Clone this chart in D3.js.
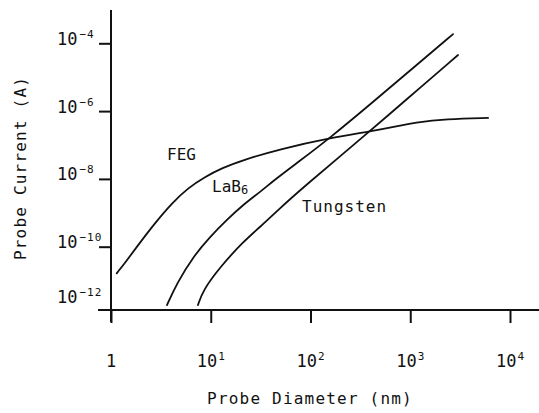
<!DOCTYPE html>
<html>
<head>
<meta charset="utf-8">
<script src="https://cdn.jsdelivr.net/npm/d3@7"></script>
<style>
  html, body { margin: 0; padding: 0; background: #fff; }
  svg { display: block; }
  text { font-family: "DejaVu Sans Mono", monospace; fill: #111; }
</style>
</head>
<body>
<svg id="chart" width="539" height="413"></svg>
<script>
// Probe current vs. probe diameter for three electron sources
const fegDiameter = [1.14, 1.38, 1.87, 2.76, 4.09, 5.92, 8.75, 13.0, 21.0, 49.4, 157, 414, 789, 1070, 2330, 6030];
const fegCurrent  = [1.64e-11, 3.3e-11, 1.12e-10, 5.0e-10, 1.95e-9, 5.4e-9, 1.15e-8, 2.1e-8, 3.6e-8, 7.6e-8, 1.62e-7, 2.57e-7, 3.7e-7, 4.5e-7, 5.9e-7, 6.3e-7];

const lab6Diameter = [3.64, 4.59, 6.64, 9.82, 14.5, 21.0, 31.2, 46.2, 73.2, 157, 424, 1067, 2685];
const lab6Current  = [1.9e-12, 8.5e-12, 5.0e-11, 1.95e-10, 6.2e-10, 1.7e-9, 4.1e-9, 1.07e-8, 2.95e-8, 1.62e-7, 1.86e-6, 1.87e-5, 1.87e-4];

const tungstenDiameter = [7.45, 8.36, 12.4, 21.0, 31.2, 47.2, 78.5, 414, 789, 3013];
const tungstenCurrent  = [1.9e-12, 5.2e-12, 2.5e-11, 1.38e-10, 3.8e-10, 1.2e-9, 4.7e-9, 2.9e-7, 1.51e-6, 4.5e-5];

const xTickValues = [1, 10, 100, 1000, 10000];
const xTickBase   = ["1", "10", "10", "10", "10"];
const xTickExp    = ["", "1", "2", "3", "4"];

const yTickValues = [1e-4, 1e-6, 1e-8, 1e-10, 1e-12];
const yTickBase   = ["10", "10", "10", "10", "10"];
const yTickExp    = ["-4", "-6", "-8", "-10", "-12"];

const series = [
  { name: "FEG", d: fegDiameter, i: fegCurrent },
  { name: "LaB6", d: lab6Diameter, i: lab6Current },
  { name: "Tungsten", d: tungstenDiameter, i: tungstenCurrent }
];

const svg = d3.select("#chart");

const x = d3.scaleLog().domain([1, 1e4]).range([111, 510]);
const y = d3.scaleLog().domain([1e-4, 1e-10]).range([43.3, 246.7]);

const axisY = 310;   // baseline of the diameter axis
const axisX = x(1);  // position of the current axis

// Axis lines
svg.append("line")
  .attr("x1", axisX).attr("x2", axisX)
  .attr("y1", 10).attr("y2", 322)
  .attr("stroke", "#111").attr("stroke-width", 2);
svg.append("line")
  .attr("x1", 98).attr("x2", 539)
  .attr("y1", axisY).attr("y2", axisY)
  .attr("stroke", "#111").attr("stroke-width", 2);

// Tick marks
const yAxis = d3.axisLeft(y).tickValues(yTickValues.slice(0, 4)).tickSize(12).tickFormat("");
svg.append("g").attr("transform", `translate(${axisX},0)`).call(yAxis)
  .call(g => g.select(".domain").remove())
  .call(g => g.selectAll("line").attr("stroke", "#111").attr("stroke-width", 2));

const xAxis = d3.axisBottom(x).tickValues(xTickValues).tickSize(13).tickFormat("");
svg.append("g").attr("transform", `translate(0,${axisY})`).call(xAxis)
  .call(g => g.select(".domain").remove())
  .call(g => g.selectAll("line").attr("stroke", "#111").attr("stroke-width", 2));

// Tick labels on the diameter axis
xTickValues.forEach((v, k) => {
  const t = svg.append("text")
    .attr("x", x(v))
    .attr("y", 367)
    .attr("text-anchor", "middle")
    .attr("font-size", 17);
  t.append("tspan").text(xTickBase[k]);
  if (xTickExp[k]) {
    t.append("tspan").attr("font-size", 11).attr("dx", 1).attr("dy", -7).text(xTickExp[k]);
  }
});

// Tick labels on the current axis
yTickValues.forEach((v, k) => {
  const base = Math.min(y(v) + 1.5, axisY - 7);
  const t = svg.append("text")
    .attr("x", 57)
    .attr("y", base)
    .attr("font-size", 17);
  t.append("tspan").text(yTickBase[k]);
  t.append("tspan").attr("font-size", 11).attr("dx", 2).attr("dy", -7)
    .attr("letter-spacing", 1).text(yTickExp[k].replace("-", "\u2212"));
});

// Curves
const line = d3.line()
  .x(p => x(p[0]))
  .y(p => y(p[1]))
  .curve(d3.curveBasis);

series.forEach(s => {
  svg.append("path")
    .datum(s.d.map((dv, k) => [dv, s.i[k]]))
    .attr("d", line)
    .attr("fill", "none")
    .attr("stroke", "#111")
    .attr("stroke-width", 1.8)
    .attr("stroke-linecap", "round");
});

// Curve labels
svg.append("text").attr("x", 167).attr("y", 160).attr("font-size", 16).text("FEG");
const lab = svg.append("text").attr("x", 212).attr("y", 192).attr("font-size", 16);
lab.append("tspan").text("LaB");
lab.append("tspan").attr("font-size", 12).attr("dy", 2).text("6");
svg.append("text").attr("x", 302).attr("y", 212).attr("font-size", 16)
  .attr("letter-spacing", 1).text("Tungsten");

// Axis titles
svg.append("text")
  .attr("x", 310).attr("y", 404)
  .attr("text-anchor", "middle")
  .attr("font-size", 16)
  .attr("letter-spacing", 1.2)
  .text("Probe Diameter (nm)");

svg.append("text")
  .attr("transform", "translate(26,168) rotate(-90)")
  .attr("text-anchor", "middle")
  .attr("font-size", 16)
  .attr("letter-spacing", 1.2)
  .text("Probe Current (A)");
</script>
</body>
</html>
